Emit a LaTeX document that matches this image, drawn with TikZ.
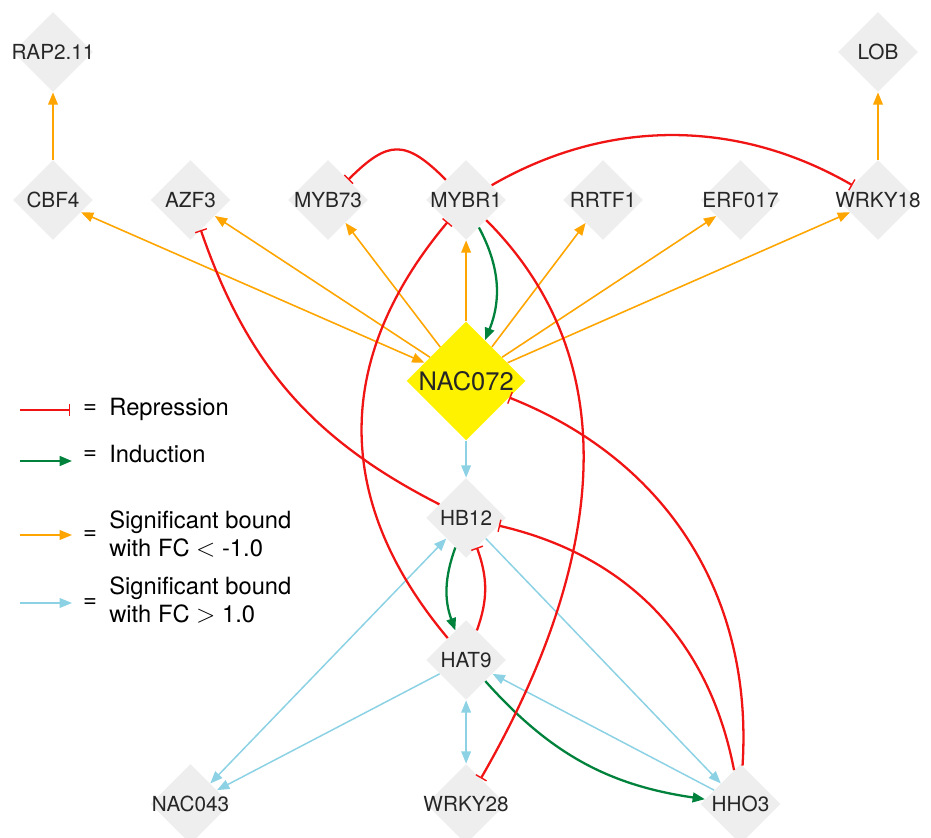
\documentclass[tikz,border=0pt]{standalone}
\usepackage{fontspec}
\setmainfont{TeX Gyre Heros}
\usetikzlibrary{positioning,shapes.geometric,arrows.meta}
\definecolor{repred}{RGB}{240,20,20}
\definecolor{indgreen}{RGB}{0,130,60}
\definecolor{sigorange}{RGB}{255,165,0}
\definecolor{sigblue}{RGB}{140,210,228}
\definecolor{genegray}{RGB}{238,238,238}

\begin{document}
\begin{tikzpicture}[
  node distance=2.75cm, on grid,
  >={Triangle[length=7pt,width=5.5pt]},
  gene/.style={diamond, fill=genegray, minimum size=1.6cm, inner sep=0pt,
    text=black!85, font=\fontsize{11.8}{14}\selectfont},
  hub/.style={gene, fill=yellow, minimum size=2.38cm, font=\fontsize{14.5}{17}\selectfont},
  rep/.style={draw=repred, line width=1.3pt, -{Bar[width=7pt,line width=0.8pt]}},
  ind/.style={draw=indgreen, line width=1.3pt, ->},
  sigdown/.style={draw=sigorange, line width=0.9pt, ->},
  sigup/.style={draw=sigblue, line width=0.85pt, ->},
  legtext/.style={inner sep=0pt, align=left, font=\fontsize{13.5}{16}\selectfont}
 ]
 \useasboundingbox (0,0) rectangle (18.62,16.74);
 % genes
 \node[gene] (cbf4) at (1.06,12.74) {\makebox[0pt]{CBF4}};
 \node[gene, above=2.96cm of cbf4] (rap) {\makebox[0pt]{RAP2.11}};
 \node[gene, right=of cbf4] (azf3) {\makebox[0pt]{AZF3}};
 \node[gene, right=of azf3] (myb73) {\makebox[0pt]{MYB73}};
 \node[gene, right=2.762cm of myb73] (mybr1) {\makebox[0pt]{MYBR1}};
 \node[gene, right=2.738cm of mybr1] (rrtf1) {\makebox[0pt]{RRTF1}};
 \node[gene, right=of rrtf1] (erf017) {\makebox[0pt]{ERF017}};
 \node[gene, right=of erf017] (wrky18) {\makebox[0pt]{WRKY18}};
 \node[gene, above=2.96cm of wrky18] (lob) {\makebox[0pt]{LOB}};
 \node[hub, below=3.62cm of mybr1] (nac) {\makebox[0pt]{NAC072}};
 \node[gene, below=2.74cm of nac] (hb12) {\makebox[0pt]{HB12}};
 \node[gene, below=2.84cm of hb12] (hat9) {\makebox[0pt]{HAT9}};
 \node[gene, below=2.88cm of hat9] (wrky28) {\makebox[0pt]{WRKY28}};
 \node[gene, left=5.512cm of wrky28] (nac043) {\makebox[0pt]{NAC043}};
 \node[gene, right=5.488cm of wrky28] (hho3) {\makebox[0pt]{HHO3}};

 % bound targets
 \path (cbf4) edge[sigdown] (rap)
       (wrky18) edge[sigdown] (lob)
       (nac) edge[sigdown, <->] (cbf4)
             edge[sigdown] (azf3)
             edge[sigdown] (myb73)
             edge[sigdown] (mybr1)
             edge[sigdown] (rrtf1)
             edge[sigdown] (erf017)
             edge[sigdown] (wrky18)
       (nac) edge[sigup] (hb12)
       (hb12) edge[sigup] (hho3)
              edge[sigup, <->] (nac043)
       (hho3) edge[sigup] (hat9)
       (hat9) edge[sigup, <->] (wrky28)
              edge[sigup] (nac043);

 % regulation
 \path (mybr1) edge[ind, bend left=25] (nac)
       (hb12) edge[ind, bend right=20] (hat9)
       (hat9) edge[ind, bend right=20] (hho3)
       (mybr1) edge[rep, out=135, in=45, looseness=1.5] (myb73)
               edge[rep, out=30, in=150, looseness=0.95] (wrky18)
               edge[rep, out=-45, in=60] (wrky28)
       (hb12) edge[rep, bend left=22] (azf3)
       (hat9) edge[rep, bend left=40, looseness=1.1] (mybr1)
              edge[rep, bend right=20] (hb12)
       (hho3) edge[rep, bend right=36] (nac)
              edge[rep, bend right=33] (hb12);

 % legend
 \coordinate (repa) at (0.40,8.54);
 \coordinate (repb) at (1.40,8.54);
 \coordinate (inda) at (0.40,7.52);
 \coordinate (indb) at (1.44,7.52);
 \coordinate (downa) at (0.40,6.04);
 \coordinate (downb) at (1.44,6.04);
 \coordinate (upa) at (0.40,4.68);
 \coordinate (upb) at (1.44,4.68);
 \draw[rep] (repa) -- (repb);
 \draw[ind] (inda) -- (indb);
 \draw[sigdown] (downa) -- (downb);
 \draw[sigup] (upa) -- (upb);
 \node[legtext] (repeq) at (1.80,8.56) {=};
 \node[legtext] (indeq) at (1.80,7.64) {=};
 \node[legtext] (downeq) at (1.80,6.04) {=};
 \node[legtext] (upeq) at (1.80,4.68) {=};
 \node[legtext, anchor=base west] (reptxt) at (2.18,8.42) {Repression};
 \node[legtext, anchor=base west] (indtxt) at (2.18,7.48) {Induction};
 \node[legtext, anchor=west] (downtxt) at (2.18,6.06) {Significant bound\\with FC $<$ -1.0};
 \node[legtext, anchor=west] (uptxt) at (2.18,4.74) {Significant bound\\with FC $>$ 1.0};
\end{tikzpicture}
\end{document}
